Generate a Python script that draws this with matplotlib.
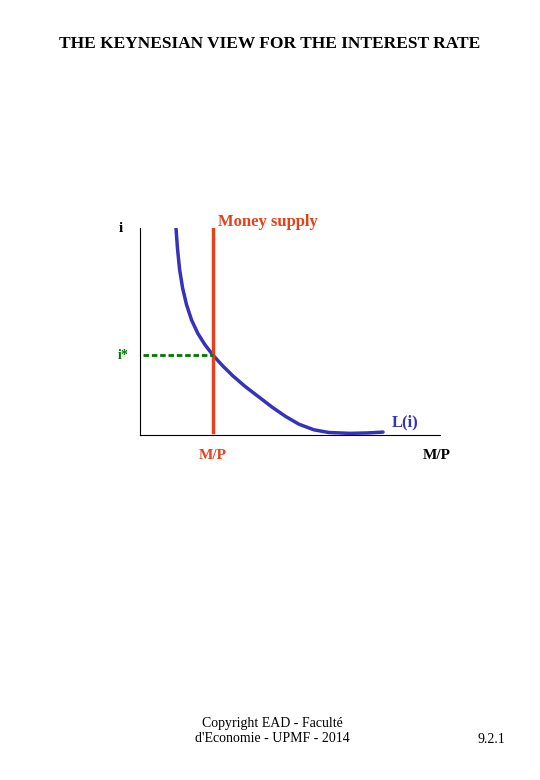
import matplotlib
matplotlib.use('Agg')
import matplotlib.pyplot as plt

plt.rcParams['font.family'] = ['Liberation Serif', 'DejaVu Serif']

# demand curve L(i)
curve_x = [1.2, 1.25, 1.32, 1.42, 1.55, 1.72, 1.93, 2.17, 2.43, 2.75, 3.1, 3.5, 3.95, 4.4, 4.85, 5.3, 5.8, 6.3, 7.0, 7.6, 8.1]
curve_y = [10.0, 9.0, 8.0, 7.1, 6.3, 5.55, 4.9, 4.35, 3.86, 3.35, 2.85, 2.35, 1.85, 1.35, 0.9, 0.52, 0.25, 0.12, 0.08, 0.1, 0.14]
money_supply = 2.43
i_star = 3.86

fig = plt.figure(figsize=(5.4, 7.8), dpi=100)
fig.text(0.5, 0.938, 'THE KEYNESIAN VIEW FOR THE INTEREST RATE', ha='center', fontsize=12.5, fontweight='bold')

ax = fig.add_axes([140/540, 1-435/780, 300/540, 207/780])
ax.set_xlim(0, 10)
ax.set_ylim(0, 10)
for s in ['top', 'right']:
    ax.spines[s].set_visible(False)
for s in ['left', 'bottom']:
    ax.spines[s].set_linewidth(0.8)
ax.set_xticks([])
ax.set_yticks([])

ax.plot(curve_x, curve_y, color='#3333bb', lw=2.5, solid_capstyle='round', solid_joinstyle='round')
ax.plot([money_supply, money_supply], [0.15, 10], color='#e8401c', lw=2.5)
ax.plot([0.1, money_supply], [i_star, i_star], color='#007700', lw=2, ls=(0, (2, 1)))

ax.text(2.6, 10.1, 'Money supply', color='#e8401c', fontsize=12, fontweight='bold')
ax.text(-0.7, 9.8, 'i', fontsize=11, fontweight='bold')
ax.text(-0.75, i_star, 'i*', fontsize=10, color='#007700', fontweight='bold', va='center')
ax.text(8.4, 0.4, 'L(i)', fontsize=12, color='#3333bb', fontweight='bold')
ax.text(money_supply, -0.7, 'M/P', fontsize=11, color='#e8401c', fontweight='bold', ha='center', va='top')
ax.text(9.9, -0.7, 'M/P', fontsize=11, fontweight='bold', ha='center', va='top')

fig.text(0.505, 0.063, "Copyright EAD - Faculté\nd'Economie - UPMF - 2014", ha='center', va='center', fontsize=10)
fig.text(0.91, 0.052, '9.2.1', ha='center', va='center', fontsize=10)

fig.savefig('out.png', dpi=100)
